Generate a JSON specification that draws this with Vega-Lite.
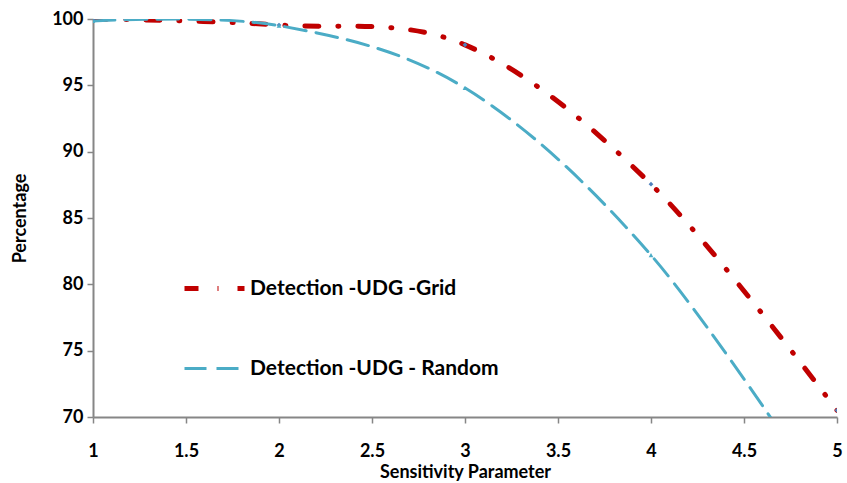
{
  "$schema": "https://vega.github.io/schema/vega-lite/v6.json",
  "autosize": "none",
  "width": 744,
  "height": 398,
  "padding": {"left": 93, "top": 19, "right": 10, "bottom": 66},
  "background": "white",
  "config": {
    "view": {"stroke": null},
    "font": "Lato",
    "axis": {
      "domainColor": "#868686",
      "domainWidth": 2,
      "tickColor": "#868686",
      "tickWidth": 1.5,
      "tickSize": 6,
      "grid": false,
      "labelFont": "Lato",
      "labelFontWeight": "bold",
      "labelFontSize": 18,
      "labelColor": "black",
      "titleFont": "Lato",
      "titleFontWeight": "bold",
      "titleFontSize": 18,
      "titleColor": "black"
    }
  },
  "data": {
    "values": [
      {"x": 1, "y": 100.0, "series": "Detection -UDG -Grid"},
      {"x": 2, "y": 99.55, "series": "Detection -UDG -Grid"},
      {"x": 3, "y": 98.05, "series": "Detection -UDG -Grid"},
      {"x": 4, "y": 87.55, "series": "Detection -UDG -Grid"},
      {"x": 5, "y": 70.5, "series": "Detection -UDG -Grid"},
      {"x": 1, "y": 99.85, "series": "Detection -UDG - Random"},
      {"x": 2, "y": 99.5, "series": "Detection -UDG - Random"},
      {"x": 3, "y": 94.8, "series": "Detection -UDG - Random"},
      {"x": 4, "y": 82.2, "series": "Detection -UDG - Random"},
      {"x": 5, "y": 62.5, "series": "Detection -UDG - Random"}
    ]
  },
  "encoding": {
    "x": {
      "field": "x",
      "type": "quantitative",
      "scale": {"domain": [1, 5], "nice": false, "zero": false},
      "axis": {"values": [1, 1.5, 2, 2.5, 3, 3.5, 4, 4.5, 5], "format": "~g", "labelPadding": 19, "title": "Sensitivity Parameter", "titlePadding": 3, "labelFlush": false}
    },
    "y": {
      "field": "y",
      "type": "quantitative",
      "scale": {"domain": [70, 100], "nice": false, "zero": false},
      "axis": {"values": [70, 75, 80, 85, 90, 95, 100], "labelPadding": 4, "title": "Percentage", "titlePadding": 22, "labelFlush": false}
    }
  },
  "layer": [
    {
      "mark": {"type": "line", "interpolate": "cardinal", "clip": true, "strokeCap": "round"},
      "encoding": {
        "color": {
          "field": "series",
          "type": "nominal",
          "scale": {"domain": ["Detection -UDG -Grid", "Detection -UDG - Random"], "range": ["#C00000", "#4BACC6"]},
          "legend": {
            "title": null,
            "orient": "none",
            "legendX": 89,
            "legendY": 237,
            "symbolType": "stroke",
            "symbolSize": 3600,
            "symbolStrokeWidth": 4,
            "labelFont": "Lato",
            "labelFontWeight": "bold",
            "labelFontSize": 21,
            "labelColor": "black",
            "labelOffset": 3,
            "rowPadding": 38,
            "labelLimit": 400
          }
        },
        "strokeDash": {
          "field": "series",
          "type": "nominal",
          "scale": {"domain": ["Detection -UDG -Grid", "Detection -UDG - Random"], "range": [[14, 19, 1, 19], [22, 10]]},
          "legend": {
            "title": null,
            "orient": "none",
            "legendX": 89,
            "legendY": 237,
            "symbolType": "stroke",
            "symbolSize": 3600,
            "symbolStrokeWidth": 4,
            "labelFont": "Lato",
            "labelFontWeight": "bold",
            "labelFontSize": 21,
            "labelColor": "black",
            "labelOffset": 3,
            "rowPadding": 38,
            "labelLimit": 400
          }
        },
        "strokeWidth": {
          "field": "series",
          "type": "nominal",
          "scale": {"domain": ["Detection -UDG -Grid", "Detection -UDG - Random"], "range": [5, 3]},
          "legend": null
        }
      }
    },
    {
      "mark": {"type": "point", "filled": true, "clip": true, "size": 22, "opacity": 1},
      "encoding": {
        "shape": {
          "condition": {"test": "datum.series === 'Detection -UDG -Grid'", "value": "diamond"},
          "value": "triangle-up"
        },
        "fill": {
          "condition": {"test": "datum.series === 'Detection -UDG -Grid'", "value": "#4F81BD"},
          "value": "#4BACC6"
        }
      }
    }
  ]
}
